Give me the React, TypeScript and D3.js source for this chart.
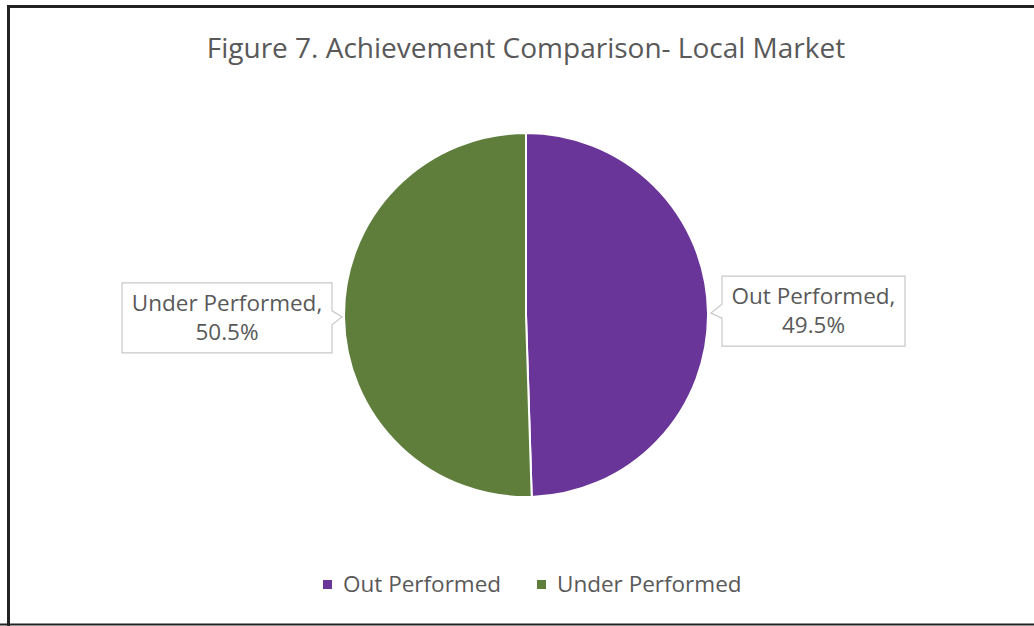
import React from "react";
import * as d3 from "d3";

const categories = ["Out Performed", "Under Performed"];
const values = [49.5, 50.5];
const colors = ["#6a3598", "#5f7e3c"];
const title = "Figure 7. Achievement Comparison- Local Market";

const W = 1034, H = 626;
const cx = 526, cy = 315, R = 182;
const FONT = "'Open Sans', 'Noto Sans', sans-serif";

export default function App() {
  const pie = d3.pie<number>().sort(null).value((d) => d)(values);
  const arc = d3.arc<d3.PieArcDatum<number>>().innerRadius(0).outerRadius(R);
  const fmt = d3.format(".1f");

  const boxes = pie.map((p, i) => {
    const mid = (p.startAngle + p.endAngle) / 2;
    const ex = Math.sin(mid) * R;
    const ey = -Math.cos(mid) * R;
    const right = ex > 0;
    const bw = right ? 183 : 210;
    const bh = 70;
    const gap = right ? 14 : 12;
    const bx = right ? cx + ex + gap : cx + ex - gap - bw;
    const by = cy + ey - bh / 2 + (right ? -1 : 0);
    const tipX = cx + ex + (right ? 3 : -2);
    const tipY = cy + ey + (right ? 1 : -1);
    const nY1 = by + 28, nY2 = by + 42;
    let d: string;
    if (right) {
      d = `M${bx},${by} H${bx + bw} V${by + bh} H${bx} V${nY2} L${tipX},${tipY} L${bx},${nY1} Z`;
    } else {
      d = `M${bx},${by} H${bx + bw} V${nY1} L${tipX},${tipY} L${bx + bw},${nY2} V${by + bh} H${bx} Z`;
    }
    return { d, bx, by, bw, bh, i };
  });

  return (
    <svg width={W} height={H} style={{ position: "absolute", left: 0, top: 0 }}>
      <rect x={0} y={0} width={W} height={H} fill="#fff" />
      <path d={`M8.5,${H} V6.5 H${W}`} fill="none" stroke="#222" strokeWidth={3} />
      <line x1={0} x2={W} y1={624.5} y2={624.5} stroke="#222" strokeWidth={2} />
      <text x={cx} y={58} textAnchor="middle" fontFamily={FONT} fontSize={28} fill="#595959">
        {title}
      </text>
      <g transform={`translate(${cx},${cy})`}>
        {pie.map((p, i) => (
          <path key={i} d={arc(p) || ""} fill={colors[i]} stroke="#fff" strokeWidth={2} />
        ))}
      </g>
      {boxes.map((b) => (
        <g key={b.i}>
          <path d={b.d} fill="#fff" stroke="#c8c8c8" strokeWidth={1.2} />
          <text x={b.bx + b.bw / 2} y={b.by + 28} textAnchor="middle" fontFamily={FONT} fontSize={22.5} fill="#595959">
            {categories[b.i]},
          </text>
          <text x={b.bx + b.bw / 2} y={b.by + 57} textAnchor="middle" fontFamily={FONT} fontSize={22.5} fill="#595959">
            {fmt(values[b.i])}%
          </text>
        </g>
      ))}
      {categories.map((c, i) => {
        const x0 = i === 0 ? 323 : 537;
        return (
          <g key={c}>
            <rect x={x0} y={580} width={9} height={9} fill={colors[i]} />
            <text x={x0 + 20} y={592} fontFamily={FONT} fontSize={22.5} fill="#595959">
              {c}
            </text>
          </g>
        );
      })}
    </svg>
  );
}
